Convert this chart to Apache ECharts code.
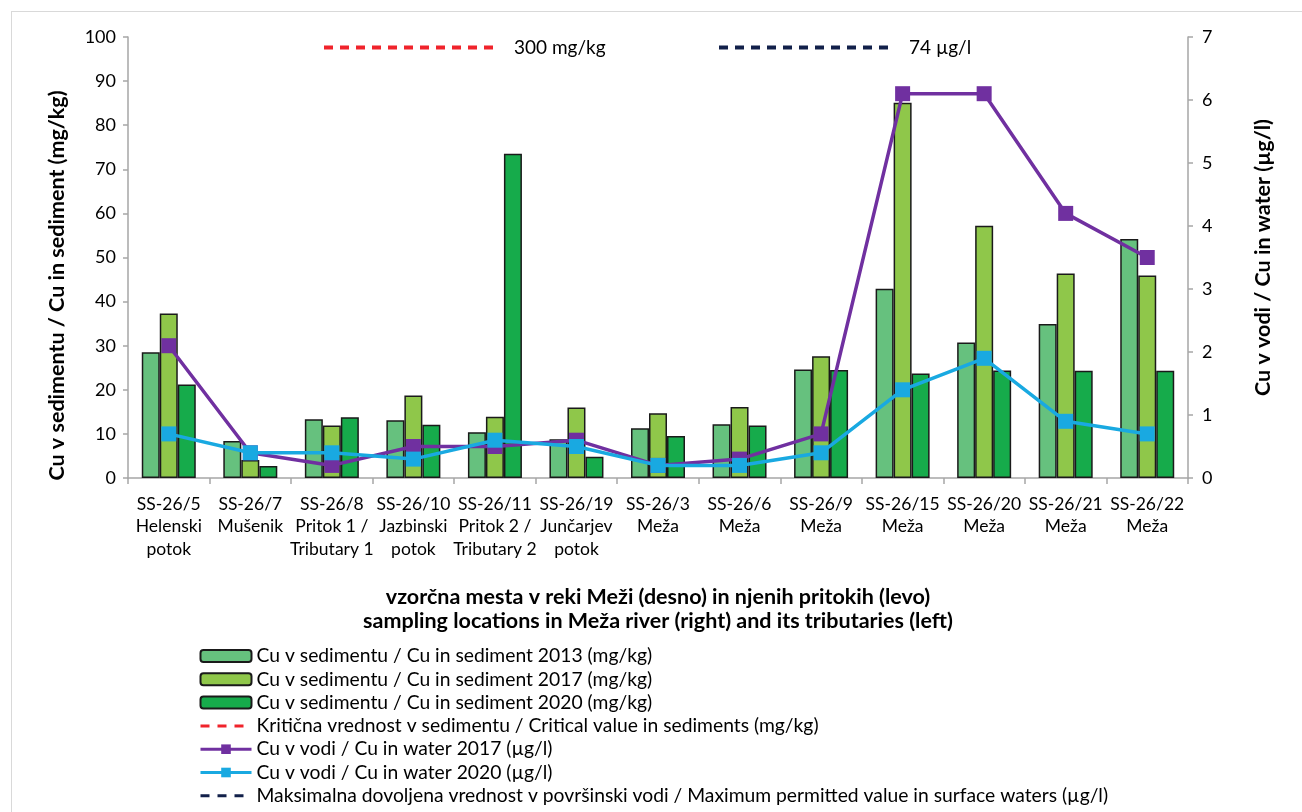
<!DOCTYPE html>
<html>
<head>
<meta charset="utf-8">
<script src="https://cdn.jsdelivr.net/npm/echarts@6/dist/echarts.min.js"></script>
<style>
html,body{margin:0;padding:0;background:#fff;}
#chart{width:1302px;height:812px;position:absolute;left:0;top:0;}
#frame{position:absolute;left:11px;top:11px;width:1300px;height:810px;border-left:1px solid #d9d9d9;border-top:1px solid #d9d9d9;pointer-events:none;}
</style>
</head>
<body>
<div id="chart"></div>
<div id="frame"></div>
<script>
const categories = [
  'SS-26/5\nHelenski\npotok', 'SS-26/7\nMušenik', 'SS-26/8\nPritok 1 /\nTributary 1',
  'SS-26/10\nJazbinski\npotok', 'SS-26/11\nPritok 2 /\nTributary 2', 'SS-26/19\nJunčarjev\npotok',
  'SS-26/3\nMeža', 'SS-26/6\nMeža', 'SS-26/9\nMeža', 'SS-26/15\nMeža', 'SS-26/20\nMeža',
  'SS-26/21\nMeža', 'SS-26/22\nMeža'
];
const sed2013 = [28.5, 8.4, 13.3, 13.1, 10.4, 8.8, 11.3, 12.2, 24.6, 42.9, 30.7, 34.9, 54.2];
const sed2017 = [37.3, 4.1, 11.9, 18.7, 13.9, 16.0, 14.7, 16.1, 27.6, 85.1, 57.2, 46.4, 45.9];
const sed2020 = [21.2, 2.7, 13.8, 12.1, 73.5, 4.8, 9.5, 11.9, 24.5, 23.7, 24.4, 24.3, 24.3];
const water2017 = [2.1, 0.4, 0.2, 0.5, 0.5, 0.6, 0.2, 0.3, 0.7, 6.1, 6.1, 4.2, 3.5];
const water2020 = [0.7, 0.4, 0.4, 0.3, 0.6, 0.5, 0.2, 0.2, 0.4, 1.4, 1.9, 0.9, 0.7];
const criticalSediment = 300;   // mg/kg, above the axis range (not visible in plot)
const maxSurfaceWater = 74;     // µg/l, above the axis range (not visible in plot)
const leftTicks = {min: 0, max: 100, interval: 10};
const rightTicks = {min: 0, max: 7, interval: 1};

const names = {
  s13: 'Cu v sedimentu / Cu in sediment 2013 (mg/kg)',
  s17: 'Cu v sedimentu / Cu in sediment 2017 (mg/kg)',
  s20: 'Cu v sedimentu / Cu in sediment 2020 (mg/kg)',
  crit: 'Kritična vrednost v sedimentu / Critical value in sediments (mg/kg)',
  w17: 'Cu v vodi / Cu in water 2017 (µg/l)',
  w20: 'Cu v vodi / Cu in water 2020 (µg/l)',
  maxw: 'Maksimalna dovoljena vrednost v površinski vodi / Maximum permitted value in surface waters (µg/l)'
};

const FONT = 'Lato';
const axisGrey = '#a6a6a6';
const barBorder = {borderColor: '#1a1a1a', borderWidth: 1.5};
const noSymbol = {opacity: 0};
const RED = '#f0232b', NAVY = '#12204a', PURPLE = '#7030a0', BLUE = '#19a9e1';

const chart = echarts.init(document.getElementById('chart'), null, {renderer: 'canvas'});
chart.setOption({
  animation: false,
  backgroundColor: '#fff',
  textStyle: {fontFamily: FONT, color: '#000'},
  grid: {left: 128, right: 114, top: 37, bottom: 334},
  legend: [
    {
      orient: 'vertical', left: 199, top: 646, padding: 0, itemGap: 3.3, itemWidth: 51, itemHeight: 12,
      data: [names.s13, names.s17, names.s20,
             {name: names.crit, itemStyle: noSymbol, lineStyle: {width: 3, type: [9, 8]}},
             {name: names.w17, lineStyle: {width: 3}},
             {name: names.w20, lineStyle: {width: 3}},
             {name: names.maxw, itemStyle: noSymbol, lineStyle: {width: 3, type: [9, 8]}}],
      textStyle: {fontFamily: FONT, fontSize: 19.3, lineHeight: 20, color: '#000'},
      selectedMode: false
    },
    {
      left: 322, top: 38, padding: 0, itemWidth: 175, itemHeight: 14,
      data: [{name: names.crit, itemStyle: noSymbol, lineStyle: {width: 4, type: [9, 7]}}],
      formatter: () => criticalSediment + ' mg/kg',
      textStyle: {fontFamily: FONT, fontSize: 19, color: '#000', padding: [0, 0, 0, 10]},
      selectedMode: false
    },
    {
      left: 717, top: 38, padding: 0, itemWidth: 175, itemHeight: 14,
      data: [{name: names.maxw, itemStyle: noSymbol, lineStyle: {width: 4, type: [9, 7]}}],
      formatter: () => maxSurfaceWater + ' µg/l',
      textStyle: {fontFamily: FONT, fontSize: 19, color: '#000', padding: [0, 0, 0, 10]},
      selectedMode: false
    }
  ],
  xAxis: {
    type: 'category',
    data: categories,
    name: 'vzorčna mesta v reki Meži (desno) in njenih pritokih (levo)\nsampling locations in Meža river (right) and its tributaries (left)',
    nameLocation: 'middle',
    nameGap: 107,
    nameTextStyle: {fontFamily: FONT, fontSize: 21.5, fontWeight: 'bold', color: '#000', lineHeight: 24},
    axisLine: {lineStyle: {color: axisGrey, width: 1.5}},
    axisTick: {show: true, length: 6, lineStyle: {color: axisGrey, width: 1.5}},
    axisLabel: {interval: 0, fontFamily: FONT, fontSize: 17.5, color: '#000', lineHeight: 22.5, margin: 15}
  },
  yAxis: [
    {
      type: 'value', min: leftTicks.min, max: leftTicks.max, interval: leftTicks.interval,
      name: 'Cu v sedimentu / Cu in sediment (mg/kg)',
      nameLocation: 'middle', nameGap: 60,
      nameTextStyle: {fontFamily: FONT, fontSize: 21.5, fontWeight: 'bold', color: '#000', padding: [0, 56, 0, 0]},
      axisLine: {show: true, lineStyle: {color: axisGrey, width: 1.5}},
      axisTick: {show: true, length: 5, lineStyle: {color: axisGrey, width: 1.5}},
      splitLine: {show: false},
      axisLabel: {fontFamily: FONT, fontSize: 18, color: '#000', margin: 12}
    },
    {
      type: 'value', min: rightTicks.min, max: rightTicks.max, interval: rightTicks.interval,
      name: 'Cu v vodi / Cu in water (µg/l)',
      nameLocation: 'middle', nameGap: 64, nameRotate: 90,
      nameTextStyle: {fontFamily: FONT, fontSize: 21.5, fontWeight: 'bold', color: '#000'},
      axisLine: {show: true, lineStyle: {color: axisGrey, width: 1.5}},
      axisTick: {show: true, length: 5, lineStyle: {color: axisGrey, width: 1.5}},
      splitLine: {show: false},
      axisLabel: {fontFamily: FONT, fontSize: 18, color: '#000', margin: 14}
    }
  ],
  series: [
    {name: names.s13, type: 'bar', data: sed2013, barWidth: 18, barGap: '0%',
     itemStyle: Object.assign({color: '#66c17e'}, barBorder)},
    {name: names.s17, type: 'bar', data: sed2017, barWidth: 18, barGap: '0%',
     itemStyle: Object.assign({color: '#8fc74a'}, barBorder)},
    {name: names.s20, type: 'bar', data: sed2020, barWidth: 18, barGap: '0%',
     itemStyle: Object.assign({color: '#16ab4b'}, barBorder)},
    {name: names.crit, type: 'line', yAxisIndex: 0, data: [], symbol: 'none',
     itemStyle: {color: RED},
     lineStyle: {color: RED, width: 3.5, type: [9, 7]}},
    {name: names.w17, type: 'line', yAxisIndex: 1, data: water2017, symbol: 'rect', symbolSize: 15,
     itemStyle: {color: PURPLE}, lineStyle: {color: PURPLE, width: 3.5}, z: 5},
    {name: names.w20, type: 'line', yAxisIndex: 1, data: water2020, symbol: 'rect', symbolSize: 15,
     itemStyle: {color: BLUE}, lineStyle: {color: BLUE, width: 3.5}, z: 6},
    {name: names.maxw, type: 'line', yAxisIndex: 1, data: [], symbol: 'none',
     itemStyle: {color: NAVY},
     lineStyle: {color: NAVY, width: 3.5, type: [9, 7]}}
  ]
});
</script>
</body>
</html>
